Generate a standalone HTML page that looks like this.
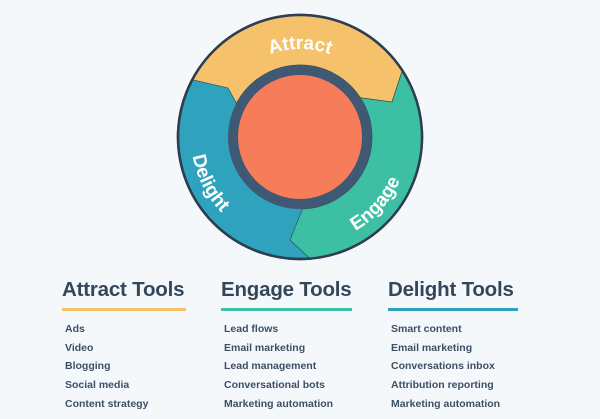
<!DOCTYPE html>
<html><head><style>
body{margin:0;width:600px;height:419px;background:#f5f8fb;font-family:"Liberation Sans",sans-serif;overflow:hidden;position:relative}
.col{position:absolute;top:276px}
.col h2{margin:0;font-size:20.5px;font-weight:bold;color:#33475b;letter-spacing:-0.2px;line-height:28px;white-space:nowrap}
.col .ul{height:3px;margin-top:4px;margin-bottom:9px}
.col div.i{font-size:10.5px;font-weight:bold;color:#3d4f63;height:18.7px;line-height:18.7px;padding-left:3px;white-space:nowrap}
</style></head><body>
<svg width="600" height="270" style="position:absolute;left:0;top:0">
<defs>
<path id="pa" d="M212,137 A88 88 0 0 1 388,137"/>
<path id="pb" d="M409,137 A109 109 0 1 0 191,137 A109 109 0 1 0 409,137"/>
</defs>
<circle cx="300" cy="137" r="122" fill="#2fa3bd" stroke="#2d3e50" stroke-width="2.5"/>
<path d="M192.3,79.7 A122 122 0 0 1 402.3,70.6 L392,102 L360.4,97.8 A72 72 0 0 0 236.4,103.2 L228,88 Z" fill="#f5c26b" stroke="#2d3e50" stroke-width="0.6"/>
<path d="M402.3,70.6 A122 122 0 0 1 310,258.6 L290,240 L302.5,209 A72 72 0 0 0 360.4,97.8 L392,102 Z" fill="#3dbfa3" stroke="#2d3e50" stroke-width="0.6"/>
<circle cx="300" cy="137" r="122" fill="none" stroke="#2d3e50" stroke-width="2.5"/>
<circle cx="300" cy="137" r="67" fill="#f77c5a" stroke="#3f5874" stroke-width="10"/>
<text font-family="Liberation Sans,sans-serif" font-size="19" font-weight="bold" fill="#fff"><textPath href="#pa" startOffset="50%" text-anchor="middle">Attract</textPath></text>
<text font-family="Liberation Sans,sans-serif" font-size="19" font-weight="bold" fill="#fff"><textPath href="#pb" startOffset="57.5%" text-anchor="middle">Delight</textPath></text>
<text font-family="Liberation Sans,sans-serif" font-size="19" font-weight="bold" fill="#fff"><textPath href="#pb" startOffset="88.5%" text-anchor="middle">Engage</textPath></text>
</svg>
<div class="col" style="left:62px;width:124px"><h2>Attract Tools</h2><div class="ul" style="background:#f5c26b"></div>
<div class="i">Ads</div><div class="i">Video</div><div class="i">Blogging</div><div class="i">Social media</div><div class="i">Content strategy</div></div>
<div class="col" style="left:221px;width:131px"><h2>Engage Tools</h2><div class="ul" style="background:#3dbfa3"></div>
<div class="i">Lead flows</div><div class="i">Email marketing</div><div class="i">Lead management</div><div class="i">Conversational bots</div><div class="i">Marketing automation</div></div>
<div class="col" style="left:388px;width:130px"><h2>Delight Tools</h2><div class="ul" style="background:#2fa3bd"></div>
<div class="i">Smart content</div><div class="i">Email marketing</div><div class="i">Conversations inbox</div><div class="i">Attribution reporting</div><div class="i">Marketing automation</div></div>
</body></html>
